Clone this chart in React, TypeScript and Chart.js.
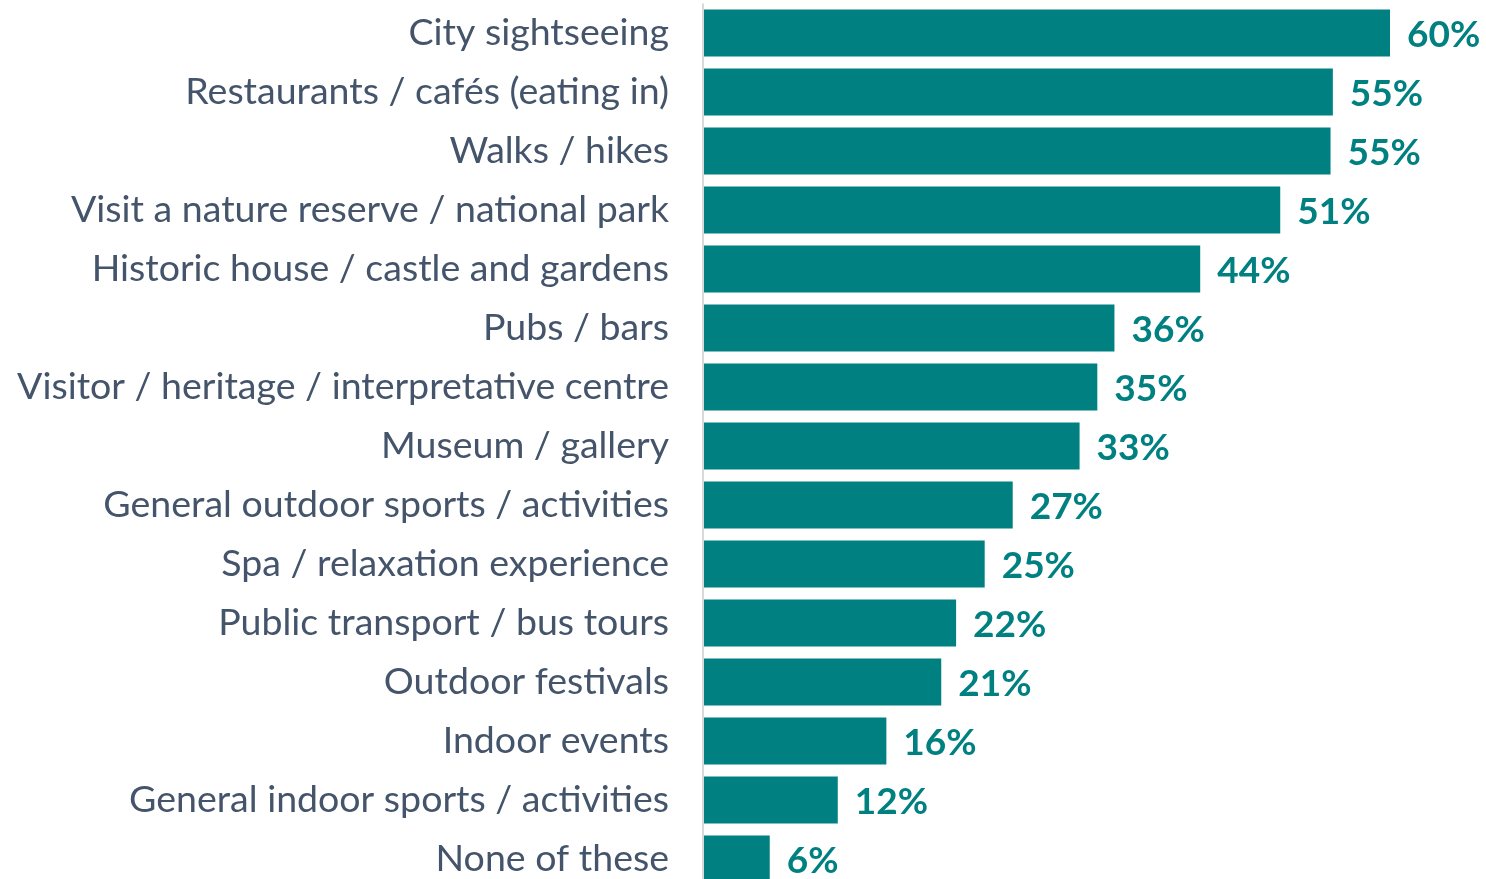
import React, { useEffect, useRef } from "react";
import { Chart, registerables } from "chart.js";

Chart.register(...registerables);

const categories = [
  "City sightseeing",
  "Restaurants / cafés (eating in)",
  "Walks / hikes",
  "Visit a nature reserve / national park",
  "Historic house / castle and gardens",
  "Pubs / bars",
  "Visitor / heritage / interpretative centre",
  "Museum / gallery",
  "General outdoor sports / activities",
  "Spa / relaxation experience",
  "Public transport / bus tours",
  "Outdoor festivals",
  "Indoor events",
  "General indoor sports / activities",
  "None of these",
];

const values = [60.0, 55.0, 54.8, 50.4, 43.4, 35.9, 34.4, 32.85, 27.0, 24.55, 22.05, 20.75, 15.95, 11.7, 5.75];

const percentLabels = ["60%", "55%", "55%", "51%", "44%", "36%", "35%", "33%", "27%", "25%", "22%", "21%", "16%", "12%", "6%"];

const barColor = "#008080";
const labelColor = "#44546A";
const fontFamily = "Lato, 'Noto Sans', sans-serif";

const dataLabelPlugin = {
  id: "dataLabels",
  afterDatasetsDraw(chart: any) {
    const ctx = chart.ctx;
    const meta = chart.getDatasetMeta(0);
    ctx.save();
    ctx.font = `bold 37px ${fontFamily}`;
    ctx.fillStyle = barColor;
    ctx.textAlign = "left";
    ctx.textBaseline = "middle";
    meta.data.forEach((bar: any, i: number) => {
      ctx.fillText(percentLabels[i], bar.x + 17, bar.y + 2);
    });
    ctx.restore();
  },
};

const axisLinePlugin = {
  id: "axisLine",
  beforeDatasetsDraw(chart: any) {
    const { ctx, chartArea } = chart;
    ctx.save();
    ctx.fillStyle = "#D9D9D9";
    ctx.fillRect(chartArea.left - 2, chartArea.top, 2, chartArea.bottom - chartArea.top);
    ctx.restore();
  },
};

export default function App() {
  const canvasRef = useRef<HTMLCanvasElement | null>(null);

  useEffect(() => {
    document.body.style.margin = "0";
    document.body.style.overflow = "hidden";
    const canvas = canvasRef.current;
    if (!canvas) return;
    const chart = new Chart(canvas, {
      type: "bar",
      data: {
        labels: categories,
        datasets: [
          {
            data: values,
            backgroundColor: barColor,
            borderWidth: 0,
            barPercentage: 0.8,
            categoryPercentage: 1,
          },
        ],
      },
      options: {
        indexAxis: "y",
        animation: false,
        responsive: true,
        maintainAspectRatio: false,
        layout: { padding: { top: 3.5, bottom: 3.5, left: 0, right: 96 } },
        plugins: {
          legend: { display: false },
          tooltip: { enabled: false },
        },
        scales: {
          x: {
            min: 0,
            max: 60,
            display: false,
            grid: { display: false },
          },
          y: {
            grid: { display: false, drawTicks: false },
            border: { display: false },
            ticks: {
              color: labelColor,
              font: { family: fontFamily, size: 37.5 },
              padding: 35,
              autoSkip: false,
            },
            afterFit(scale: any) {
              scale.width = 704;
              scale.paddingTop = 0;
              scale.paddingBottom = 0;
            },
          },
        },
      },
      plugins: [axisLinePlugin, dataLabelPlugin],
    });
    return () => chart.destroy();
  }, []);

  return (
    <div style={{ position: "fixed", top: 0, left: 0, width: 1486, height: 879, overflow: "hidden" }}>
      <div style={{ position: "relative", width: 1486, height: 892 }}>
        <canvas ref={canvasRef} />
      </div>
    </div>
  );
}
